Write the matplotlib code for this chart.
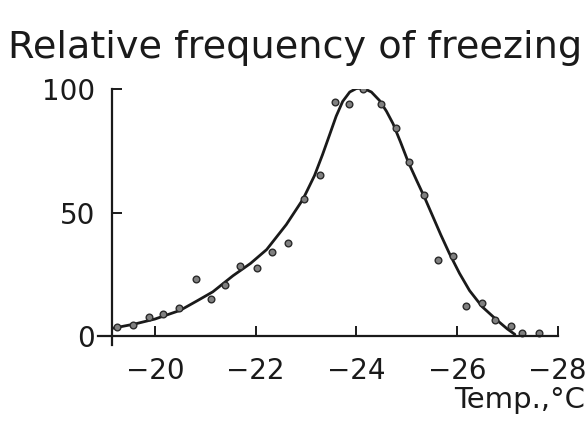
import matplotlib
matplotlib.use("Agg")
import matplotlib.pyplot as plt

# measured points (temperature, relative frequency %)
pts_temp = [-19.24, -19.57, -19.89, -20.16, -20.48, -20.81, -21.12, -21.39, -21.69,
            -22.03, -22.33, -22.64, -22.97, -23.27, -23.57, -23.85, -24.13, -24.50,
            -24.78, -25.04, -25.34, -25.63, -25.92, -26.18, -26.49, -26.76, -27.08,
            -27.29, -27.62]
pts_freq = [3.7, 4.7, 7.8, 9.1, 11.6, 23.2, 15.2, 20.8, 28.5,
            27.6, 34.3, 37.7, 55.4, 65.3, 94.6, 93.9, 100.0, 93.9,
            84.2, 70.3, 57.0, 31.0, 32.5, 12.2, 13.5, 6.5, 4.2,
            1.5, 1.5]

# fitted curve
curve_temp = [-19.17, -19.6, -20.0, -20.5, -20.85, -21.15, -21.55, -21.9, -22.22,
              -22.61, -22.94, -23.17, -23.33, -23.47, -23.6, -23.73, -23.87, -24.0,
              -24.13, -24.3, -24.46, -24.6, -24.73, -24.88, -25.03, -25.2, -25.36,
              -25.52, -25.68, -25.85, -26.05, -26.25, -26.5, -26.78, -27.0, -27.15]
curve_freq = [3.3, 5.0, 7.0, 10.5, 14.5, 18.0, 24.5, 29.5, 35.1,
              45.2, 55.4, 65.0, 73.5, 81.5, 89.0, 95.0, 98.8, 100.2,
              100.4, 98.8, 95.4, 91.0, 86.0, 78.5, 70.6, 63.0, 56.0,
              48.5, 41.0, 33.5, 25.5, 18.5, 12.0, 6.8, 3.0, 0.8]

x_ticks = [-20, -22, -24, -26, -28]
x_labels = ["\u221220", "\u221222", "\u221224", "\u221226", "\u221228"]
y_ticks = [0, 50, 100]
y_labels = ["0", "50", "100"]

plt.rcParams['font.family'] = ['DejaVu Sans']

fig = plt.figure(figsize=(5.87, 4.21), dpi=100)
ax = fig.add_axes([0.167, 0.1805, 0.783, 0.608])

ax.plot(curve_temp, curve_freq, color='#1a1a1a', lw=2.0,
        solid_capstyle='round', solid_joinstyle='round')
ax.plot(pts_temp, pts_freq, 'o', ms=4.8, mfc='#808080', mec='#2a2a2a', mew=1.0)

ax.set_xlim(-18.87, -28)
ax.set_ylim(-3.5, 100)

for s in ['top', 'right']:
    ax.spines[s].set_visible(False)
ax.spines['left'].set_position(('data', -19.14))
ax.spines['bottom'].set_position(('data', 0))
for s in ['left', 'bottom']:
    ax.spines[s].set_linewidth(1.6)
    ax.spines[s].set_color('#1a1a1a')

ax.set_xticks(x_ticks)
ax.set_xticklabels(x_labels)
ax.set_yticks(y_ticks)
ax.set_yticklabels(y_labels)
ax.tick_params(axis='x', direction='in', length=7, width=1.4, pad=15,
               labelsize=20, colors='#1a1a1a')
ax.tick_params(axis='y', direction='in', length=7, width=1.4, pad=12,
               labelsize=20, colors='#1a1a1a')

fig.text(0.013, 0.862, "Relative frequency of freezing", fontsize=27.5,
         ha='left', va='baseline', color='#1a1a1a')
fig.text(0.997, 0.03, "Temp.,\u00b0C", fontsize=21, ha='right', va='baseline',
         color='#1a1a1a')

fig.savefig("out.png", dpi=100)
